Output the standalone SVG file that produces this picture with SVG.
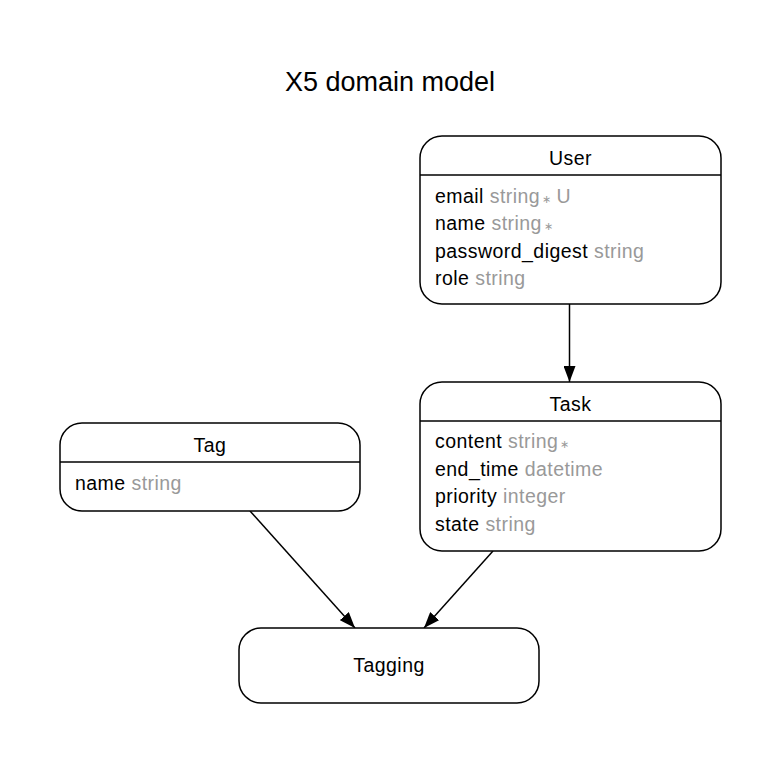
<svg xmlns="http://www.w3.org/2000/svg" width="781" height="764" viewBox="0 0 781 764">
<style>
text { font-family: "Liberation Sans", Arial, Helvetica, sans-serif; }
.box { fill: #fff; stroke: #000; stroke-width: 1.5; }
.div { stroke: #000; stroke-width: 1.5; }
.t { font-size: 19.5px; letter-spacing: 0.45px; fill: #000; }
.h { font-size: 19.5px; letter-spacing: 0.45px; text-anchor: middle; fill: #000; }
.g { fill: #999; }
.s { font-size: 11px; fill: #999; }
.edge { fill: none; stroke: #000; stroke-width: 1.5; }
</style>
<defs>
<marker id="arr" viewBox="0 0 16 12" refX="16" refY="6" markerWidth="16" markerHeight="12" markerUnits="userSpaceOnUse" orient="auto">
<path d="M0,0 L16,6 L0,12 z" fill="#000"/>
</marker>
</defs>
<rect width="781" height="764" fill="#fff"/>
<text x="390" y="91" font-size="27" text-anchor="middle">X5 domain model</text>
<g id="connectors">
<path class="edge" d="M569.5,304 L569.5,382" marker-end="url(#arr)"/>
<path class="edge" d="M250,511 L355,628" marker-end="url(#arr)"/>
<path class="edge" d="M493,551 L424,628" marker-end="url(#arr)"/>
</g>
<g id="User">
<rect class="box" x="420" y="136" width="301" height="168" rx="22"/>
<line class="div" x1="420" y1="175" x2="721" y2="175"/>
<text class="h" x="570.5" y="165">User</text>
<text class="t" x="435" y="202.5">email <tspan class="g">string</tspan><tspan class="s" dx="2">∗</tspan><tspan class="g" dx="5">U</tspan></text>
<text class="t" x="435" y="230">name <tspan class="g">string</tspan><tspan class="s" dx="2">∗</tspan></text>
<text class="t" x="435" y="257.5">password_digest <tspan class="g">string</tspan></text>
<text class="t" x="435" y="285">role <tspan class="g">string</tspan></text>
</g>
<g id="Task">
<rect class="box" x="420" y="382" width="301" height="169" rx="22"/>
<line class="div" x1="420" y1="421" x2="721" y2="421"/>
<text class="h" x="570.5" y="411">Task</text>
<text class="t" x="435" y="448">content <tspan class="g">string</tspan><tspan class="s" dx="2">∗</tspan></text>
<text class="t" x="435" y="475.5">end_time <tspan class="g">datetime</tspan></text>
<text class="t" x="435" y="503">priority <tspan class="g">integer</tspan></text>
<text class="t" x="435" y="530.5">state <tspan class="g">string</tspan></text>
</g>
<g id="Tag">
<rect class="box" x="60" y="423" width="300" height="88" rx="22"/>
<line class="div" x1="60" y1="462" x2="360" y2="462"/>
<text class="h" x="210" y="452">Tag</text>
<text class="t" x="75" y="490">name <tspan class="g">string</tspan></text>
</g>
<g id="Tagging">
<rect class="box" x="239" y="628" width="300" height="75" rx="22"/>
<text class="h" x="389" y="672">Tagging</text>
</g>
</svg>
